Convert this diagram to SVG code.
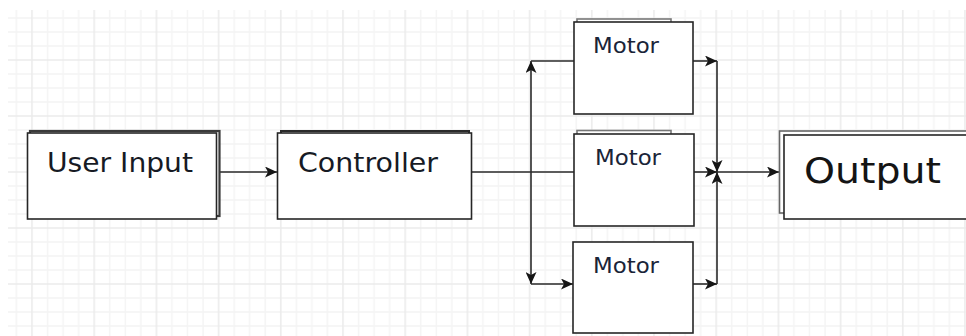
<svg xmlns="http://www.w3.org/2000/svg" width="966" height="336" viewBox="0 0 966 336">
  <defs>
    <pattern id="grid" patternUnits="userSpaceOnUse" x="24.225" y="53" width="62.2" height="56">
      <path d="M23.325,0 V56 M38.875,0 V56 M54.425,0 V56 M0,21 H62.2 M0,35 H62.2 M0,49 H62.2" stroke="#f4f4f4" stroke-width="1.5" fill="none"/>
      <path d="M7.775,0 V56 M0,7 H62.2" stroke="#ebebeb" stroke-width="1.5" fill="none"/>
    </pattern>
    <marker id="arr" markerUnits="userSpaceOnUse" markerWidth="13" markerHeight="11" refX="12" refY="5.5" orient="auto" viewBox="0 0 13 11">
      <path d="M0,0 L12,5.5 L0,11 L3,5.5 Z" fill="#161616"/>
    </marker>
    <style>
      .box { fill: #ffffff; stroke: #262626; stroke-width: 1.6; }
      .back { fill: #ffffff; stroke: #555555; stroke-width: 1.6; }
      .lbl { font-family: "DejaVu Sans", "Open Sans", sans-serif; fill: #161a24; }
      .big { font-size: 27px; }
      .mot { font-size: 21px; fill: #1a2438; }
      .out { font-size: 36px; fill: #141414; }
      .edge { fill: none; stroke: #2b2b2b; stroke-width: 1.6; }
    </style>
  </defs>
  <rect x="0" y="0" width="966" height="336" fill="#ffffff"/>
  <rect x="8" y="10" width="958" height="326" fill="url(#grid)"/>

  <g id="connectors">
    <path class="edge" d="M217,172 L277,172" marker-end="url(#arr)"/>
    <path class="edge" d="M472,172 L574,172"/>
    <path class="edge" d="M531,172 L531,61" marker-end="url(#arr)"/>
    <path class="edge" d="M531,61 L574,61"/>
    <path class="edge" d="M531,172 L531,284" marker-end="url(#arr)"/>
    <path class="edge" d="M531,284 L573,284" marker-end="url(#arr)"/>
    <path class="edge" d="M693,61 L717,61" marker-end="url(#arr)"/>
    <path class="edge" d="M717,61 L717,172" marker-end="url(#arr)"/>
    <path class="edge" d="M694,172 L717,172" marker-end="url(#arr)"/>
    <path class="edge" d="M693,284 L717,284" marker-end="url(#arr)"/>
    <path class="edge" d="M717,284 L717,172" marker-end="url(#arr)"/>
    <path class="edge" d="M717,172 L779,172" marker-end="url(#arr)"/>
  </g>

  <g id="user-input">
    <rect class="back" x="30" y="131" width="189.5" height="85" style="stroke:#3a3a3a;stroke-width:2.2"/>
    <rect class="box" x="27.5" y="133" width="189" height="86"/>
    <text class="lbl big" x="47" y="172" textLength="146" lengthAdjust="spacingAndGlyphs">User Input</text>
  </g>

  <g id="controller">
    <rect class="back" x="281" y="131" width="188" height="80" style="stroke:#2a2a2a;stroke-width:2"/>
    <rect class="box" x="277.5" y="133" width="194" height="86"/>
    <text class="lbl big" x="298" y="172" textLength="140" lengthAdjust="spacingAndGlyphs">Controller</text>
  </g>

  <g id="motor-1">
    <rect class="back" x="577" y="19" width="94" height="60" style="stroke:#777777"/>
    <rect class="box" x="574" y="22" width="119" height="92"/>
    <text class="lbl mot" x="593" y="53" textLength="66" lengthAdjust="spacingAndGlyphs">Motor</text>
  </g>

  <g id="motor-2">
    <rect class="back" x="577" y="130.5" width="94" height="60" style="stroke:#777777"/>
    <rect class="box" x="574" y="134" width="120" height="92"/>
    <text class="lbl mot" x="595" y="165" textLength="66" lengthAdjust="spacingAndGlyphs">Motor</text>
  </g>

  <g id="motor-3">
    <rect class="box" x="573" y="242" width="120" height="91"/>
    <text class="lbl mot" x="593" y="273" textLength="66" lengthAdjust="spacingAndGlyphs">Motor</text>
  </g>

  <g id="output">
    <rect class="back" x="779.5" y="131" width="200" height="82" style="stroke:#666666"/>
    <rect class="box" x="784" y="135" width="200" height="84"/>
    <text class="lbl out" x="804" y="183" textLength="137" lengthAdjust="spacingAndGlyphs">Output</text>
  </g>
</svg>
